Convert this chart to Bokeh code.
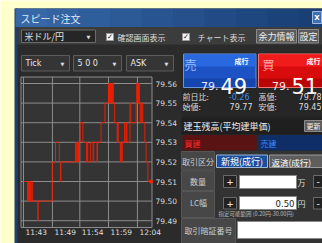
from bokeh.plotting import figure
from bokeh.models import Range1d
from bokeh.core.properties import value
from bokeh.embed import file_html
from bokeh.resources import INLINE

# ---------------- data ----------------
tick_idx = [0, 16, 18, 19, 22, 23, 26, 27, 33, 34, 56, 57, 113, 125, 140, 144, 146,
            203, 205, 208, 210, 213, 215, 218, 221, 232, 246, 249, 251, 262, 272, 274,
            287, 289, 303, 318, 332, 334, 336, 338, 340, 342, 344, 346, 348, 351, 356,
            366, 368, 370, 378, 380, 383, 386, 395, 397, 402, 404, 416, 419, 440, 442,
            445, 447, 449, 451, 453, 456, 458, 460, 463, 466, 474, 479, 486, 498]
tick_price = [79.51, 79.50, 79.51, 79.50, 79.51, 79.50, 79.51, 79.50, 79.51, 79.50, 79.49, 79.50,
              79.52, 79.53, 79.52, 79.51, 79.52,
              79.53, 79.52, 79.53, 79.52, 79.53, 79.52, 79.53, 79.54, 79.53, 79.52, 79.53, 79.52,
              79.53, 79.52, 79.53,
              79.52, 79.53, 79.54, 79.55, 79.56, 79.55, 79.56, 79.55, 79.56, 79.55, 79.56, 79.55,
              79.56, 79.55, 79.54,
              79.53, 79.54, 79.53, 79.52, 79.53, 79.52, 79.53, 79.54, 79.53, 79.54, 79.53, 79.55,
              79.54, 79.55, 79.56,
              79.55, 79.56, 79.55, 79.56, 79.55, 79.54, 79.55, 79.54, 79.55, 79.54, 79.53, 79.52,
              79.51, 79.51]
time_tick_idx = [0, 113, 220, 332, 445]
time_labels = ["11:43", "11:49", "11:54", "11:59", "12:04"]
price_ticks = [79.56, 79.55, 79.54, 79.53, 79.52, 79.51, 79.50, 79.49]

# ---------------- layout constants (picture pixels) ----------------
PX_L, PX_R, PX_T, PX_B = 0, 322, 0, 243
X_TICK0, PX_PER_TICK = 23.0, 0.256
Y_TOP_PRICE, Y_TOP_PX, PX_PER_CENT = 79.56, 83.0, 19.6

def tick_at(px):
    return (px - X_TICK0) / PX_PER_TICK

def price_at(py):
    return Y_TOP_PRICE - (py - Y_TOP_PX) / PX_PER_CENT * 0.01

JP = value("Noto Sans CJK JP")
SANS = value("DejaVu Sans")

p = figure(width=PX_R - PX_L, height=PX_B - PX_T, output_backend="svg", toolbar_location=None,
           x_axis_type=None, y_axis_type=None, min_border=0,
           x_range=Range1d(PX_L, PX_R), y_range=Range1d(PX_B, PX_T))
p.outline_line_color = None
p.background_fill_color = "#ffffcc"
p.border_fill_color = "#ffffcc"
p.extra_x_ranges = {"tick": Range1d(tick_at(PX_L), tick_at(PX_R))}
p.extra_y_ranges = {"price": Range1d(price_at(PX_B), price_at(PX_T))}


def rect(l, t, r, b, fill, line=None, lw=1):
    p.quad(left=[l], right=[r], top=[t], bottom=[b], fill_color=fill,
           line_color=line, line_width=lw)


def txt(x, y, s, size, color, align="left", font=JP, weight="normal"):
    p.text(x=[x], y=[y], text=[s], text_font=font, text_font_size=f"{size}px",
           text_color=color, text_align=align, text_baseline="middle", text_font_style=weight)


# window frame
rect(15, 8, 330, 250, "#2b2b2b")
rect(14, 8, 17, 250, "#1f3f70")
# title bar gradient
cols = ["#3667a6", "#3363a2", "#2f5e9c", "#2c5a97", "#285591", "#25508b", "#224b85",
        "#1f477f", "#1c4379", "#1a3f74"]
w = (330 - 15) / len(cols)
for i, c in enumerate(cols):
    rect(15 + i * w, 8, 15 + (i + 1) * w + 0.5, 26.5, c)
txt(20, 17.5, "スピード注文", 10, "#dfe8f5")
rect(312, 11, 321, 23, "#3c6fb5", "#9db8de")
txt(316.5, 17, "X", 7, "#ffffff", "center", SANS, "bold")
# toolbar row
rect(17, 26.5, 330, 44, "#3c3c3c")
rect(21, 29.5, 95, 42, "#262626", "#6a6a6a")
txt(24, 36, "米ドル/円", 9, "#e0e0e0")
txt(88, 36, "▼", 5, "#dddddd", "center", SANS)
for cx in (106, 182):
    rect(cx, 33, cx + 7, 40, "#f4f4f4", "#999999")
    txt(cx + 3.5, 36.5, "✓", 7, "#111111", "center", SANS, "bold")
txt(117, 36.5, "確認画面表示", 8, "#dddddd")
txt(197, 36.5, "チャート表示", 8, "#dddddd")
rect(256, 29, 296, 42.5, "#5a5a5a", "#8a8a8a")
txt(276, 36, "余力情報", 9, "#f0f0f0", "center")
rect(298, 29, 318, 42.5, "#5a5a5a", "#8a8a8a")
txt(308, 36, "設定", 9, "#f0f0f0", "center")

# selectors row
for (l, r, s) in ((21, 69, "Tick"), (73, 121, "5 0 0"), (126, 173, "ASK")):
    rect(l, 55, r, 70.5, "#353535", "#5c5c5c")
    txt(l + 4, 63, s, 8, "#e8e8e8", font=SANS)
    txt(r - 7, 63, "▼", 5, "#dddddd", "center", SANS)

# chart box
rect(20.5, 76.5, 151.5, 227, "#343434", "#8c8c8c")
p.segment(x0=time_tick_idx, x1=time_tick_idx, y0=[76.5] * len(time_tick_idx),
          y1=[227] * len(time_tick_idx), x_range_name="tick", line_color="#8c8c8c", line_width=1)
p.segment(x0=[20.5] * len(price_ticks), x1=[151.5] * len(price_ticks), y0=price_ticks,
          y1=price_ticks, y_range_name="price", line_color="#8c8c8c", line_width=1)
p.text(x=time_tick_idx, y=[232] * len(time_tick_idx), text=time_labels, x_range_name="tick",
       x_offset=2, text_font=SANS, text_font_size="7.5px", text_color="#dddddd",
       text_baseline="middle", text_align="left")
p.text(x=[155] * len(price_ticks), y=price_ticks, text=[f"{v:.2f}" for v in price_ticks],
       y_range_name="price", text_font=SANS, text_font_size="7.5px", text_color="#dddddd",
       text_baseline="middle", text_align="left")
p.step(x=tick_idx, y=tick_price, mode="after", x_range_name="tick", y_range_name="price",
       line_color="#f01e00", line_width=0.9)
p.scatter(x=[tick_idx[-1]], y=[tick_price[-1]], x_range_name="tick", y_range_name="price",
          size=4, fill_color="#ff2000", line_color=None)

# right panel
rect(181, 52, 330, 117, "#262626")
# sell box
rect(183, 53.5, 255.5, 87, "#1c52c4", "#6d93e0")
rect(183.5, 54, 255, 66, "#2a68e0")
rect(183.5, 78, 255, 86.5, "#1446ad")
txt(190, 63.5, "売", 12, "#9cc0ff", "center")
txt(248, 60.5, "成行", 7, "#ffffff", "right", weight="bold")
p.text(x=[218], y=[85], text=["79."], text_font=SANS, text_font_size="11px",
       text_color="#e8eeff", text_align="right", text_baseline="alphabetic")
p.text(x=[220], y=[85], text=["49"], text_font=SANS, text_font_size="21px",
       text_color="#ffffff", text_align="left", text_baseline="alphabetic")
# buy box
rect(258, 53.5, 330, 87, "#d80c0c", "#ff7070")
rect(258.5, 54, 330, 66, "#f01c1c")
rect(258.5, 78, 330, 86.5, "#b80606")
txt(268, 63.5, "買", 12, "#ffb0b0", "center")
txt(320, 60.5, "成行", 7, "#ffffff", "right", weight="bold")
p.text(x=[289], y=[85], text=["79."], text_font=SANS, text_font_size="11px",
       text_color="#ffe8e8", text_align="right", text_baseline="alphabetic")
p.text(x=[291], y=[85], text=["51"], text_font=SANS, text_font_size="21px",
       text_color="#ffffff", text_align="left", text_baseline="alphabetic")
# quote info
txt(182, 95.5, "前日比:", 8, "#dddddd")
txt(249, 95.5, "-0.26", 8, "#3d8fe6", "right", SANS)
txt(258, 95.5, "高値:", 8, "#dddddd")
txt(321, 95.5, "79.78", 8, "#dddddd", "right", SANS)
txt(182, 105.5, "始値:", 8, "#dddddd")
txt(252, 105.5, "79.77", 8, "#dddddd", "right", SANS)
txt(258, 105.5, "安値:", 8, "#dddddd")
txt(321, 105.5, "79.45", 8, "#dddddd", "right", SANS)
# positions
rect(181, 117, 330, 134, "#1f1f1f")
txt(183, 126, "建玉残高(平均建単価)", 9, "#eeeeee")
rect(304, 120, 330, 131, "#5c5c5c", "#8a8a8a")
txt(313, 125.5, "更新", 7, "#f0f0f0", "center")
rect(182, 134.5, 256, 150, "#5a1313")
txt(184, 142.5, "買建", 8, "#ff2a2a")
rect(258, 134.5, 330, 150, "#0f2d66")
txt(260, 142.5, "売建", 8, "#3a8cff")

# order form
rect(181, 150.5, 330, 250, "#333333")
for (t, b) in ((151, 169.5), (170.5, 190), (191, 217), (218, 250)):
    rect(181, t, 214 if b < 240 else 235, b, "#474747", "#555555")
txt(197.5, 161, "取引区分", 8, "#cccccc", "center")
rect(216, 154.5, 267, 167, "#1d4f9f", "#9fb6d8")
txt(241.5, 161, "新規(成行)", 9, "#ffffff", "center")
rect(269, 154.5, 330, 167, "#5e5e5e", "#9a9a9a")
txt(271, 161, "返済(成行)", 8.5, "#ffffff")
txt(197.5, 181, "数量", 8, "#cccccc", "center")
rect(223, 175, 236, 187, "#222222", "#6a6a6a")
txt(229.5, 181, "+", 9, "#ffffff", "center", SANS)
rect(239, 175, 296, 188, "#ffffff", "#888888")
txt(301, 181.5, "万", 8, "#dddddd", "center")
rect(313, 175, 330, 187, "#222222", "#6a6a6a")
txt(317.5, 181, "-", 9, "#ffffff", "center", SANS)
txt(198, 202, "LC幅", 8, "#cccccc", "center")
rect(223, 197, 236, 208.5, "#222222", "#6a6a6a")
txt(229.5, 202.5, "+", 9, "#ffffff", "center", SANS)
rect(239, 196, 296, 209, "#ffffff", "#888888")
txt(294, 202.5, "0.50", 8.5, "#222222", "right", SANS)
txt(301, 202.5, "円", 8, "#dddddd", "center")
rect(313, 197, 330, 208.5, "#222222", "#6a6a6a")
txt(317.5, 202.5, "-", 9, "#ffffff", "center", SANS)
txt(218, 213.5, "指定可能範囲 (0.20円-30.00円)", 5.5, "#bbbbbb")
txt(208, 230, "取引暗証番号", 8, "#cccccc", "center")
rect(237, 221, 330, 238, "#ffffff", "#888888")

open("out.html", "w").write(file_html(p, INLINE))
